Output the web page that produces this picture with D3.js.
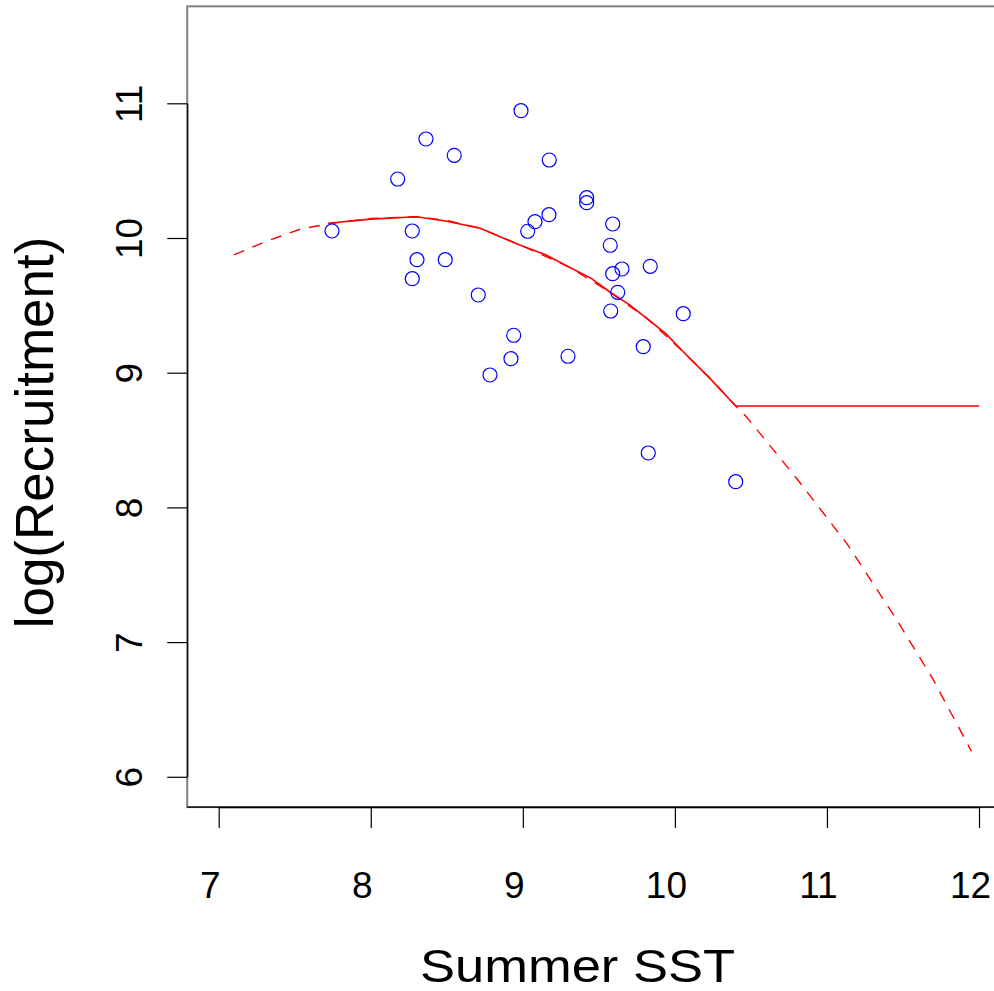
<!DOCTYPE html>
<html>
<head>
<meta charset="utf-8">
<script src="https://cdn.jsdelivr.net/npm/d3@7"></script>
<style>
  body { margin: 0; background: #fff; }
  text { font-family: "Liberation Sans", Arial, sans-serif; fill: #000; }
</style>
</head>
<body>
<div id="chart-area"></div>
<script>
// Observed points
let sstObs = [7.745, 8.177, 8.363, 8.549, 8.273, 8.304, 8.273, 8.490, 8.707, 8.784,
  8.922, 8.940, 8.988, 9.032, 9.080, 9.174, 9.172, 9.297, 9.420, 9.420,
  9.591, 9.575, 9.591, 9.652, 9.624, 9.578, 9.838, 9.792, 10.055, 9.825, 10.400];
let recObs = [10.052, 10.438, 10.735, 10.614, 10.052, 9.839, 9.698, 9.839, 9.577, 8.983,
  9.104, 9.278, 10.945, 10.050, 10.121, 10.579, 10.173, 9.122, 10.299, 10.262,
  10.104, 9.946, 9.735, 9.770, 9.597, 9.458, 9.790, 9.193, 9.438, 8.404, 8.191];

// Dashed fitted curve
let fitSst = [7.10, 7.30, 7.54, 7.75, 8.0, 8.3, 8.5, 8.72, 9.0, 9.3, 9.57, 9.82,
  10.05, 10.23, 10.40, 10.47, 10.80, 11.13, 11.46, 11.70, 11.95];
let fitRec = [9.874, 9.97, 10.067, 10.11, 10.145, 10.158, 10.13, 10.072, 9.94, 9.787, 9.60, 9.40,
  9.16, 8.96, 8.753, 8.673, 8.216, 7.733, 7.164, 6.719, 6.19];

// Solid curve (with flat extension)
let solidSst = [7.72, 8.0, 8.30, 8.50, 8.72, 8.85, 8.98, 9.15, 9.30, 9.45, 9.57, 9.70, 9.815,
  9.94, 10.055, 10.23, 10.40, 12.0];
let solidRec = [10.11, 10.14, 10.158, 10.125, 10.072, 10.01, 9.948, 9.875, 9.787, 9.70, 9.601, 9.505, 9.404,
  9.29, 9.156, 8.958, 8.753, 8.753];

let xTicks = [7, 8, 9, 10, 11, 12];
let yTicks = [6, 7, 8, 9, 10, 11];

let width = 994, height = 991;

let svg = d3
  .select('#chart-area')
  .append('svg')
  .attr('width', width)
  .attr('height', height);

// Scales
let x = d3.scaleLinear().domain([7, 12]).range([218.7, 979]);
let y = d3.scaleLinear().domain([6, 11]).range([776.8, 103.3]);

// Plot box
let boxL = x(6.793), boxR = x(12.2), boxT = y(11.72), boxB = y(5.775);
svg
  .append('rect')
  .attr('x', boxL)
  .attr('y', boxT)
  .attr('width', boxR - boxL)
  .attr('height', boxB - boxT)
  .attr('fill', 'none')
  .attr('stroke', '#808080')
  .attr('stroke-width', 2);
svg
  .append('line')
  .attr('x1', boxL)
  .attr('x2', boxR)
  .attr('y1', boxB)
  .attr('y2', boxB)
  .attr('stroke', '#000')
  .attr('stroke-width', 1.2);

// Axes
let xAxis = svg
  .append('g')
  .attr('transform', `translate(0, ${boxB})`)
  .call(d3.axisBottom(x).tickValues(xTicks).tickFormat(d3.format('d'))
    .tickSize(21).tickSizeOuter(0).tickPadding(44));
xAxis.selectAll('text').attr('dx', -9).style('font-size', '37px');

let yAxis = svg
  .append('g')
  .attr('transform', `translate(${boxL}, 0)`)
  .call(d3.axisLeft(y).tickValues(yTicks).tickFormat(d3.format('d'))
    .tickSize(20).tickSizeOuter(0));
yAxis
  .selectAll('text')
  .attr('x', 0)
  .attr('y', -45.6)
  .attr('dy', 0)
  .attr('transform', 'rotate(-90)')
  .attr('text-anchor', 'middle')
  .style('font-size', '37px');

svg.selectAll('.domain, .tick line').attr('stroke', '#000').attr('stroke-width', 1.2);

// Lines
let fitData = fitSst.map((v, i) => ({ sst: v, rec: fitRec[i] }));
let solidData = solidSst.map((v, i) => ({ sst: v, rec: solidRec[i] }));

let line = d3
  .line()
  .x(d => x(d.sst))
  .y(d => y(d.rec))
  .curve(d3.curveLinear);

svg
  .append('path')
  .datum(fitData)
  .attr('d', line)
  .attr('fill', 'none')
  .attr('stroke', '#ff0000')
  .attr('stroke-width', 1.4)
  .attr('stroke-dasharray', '11,9');

svg
  .append('path')
  .datum(solidData)
  .attr('d', line)
  .attr('fill', 'none')
  .attr('stroke', '#ff0000')
  .attr('stroke-width', 1.6);

// Points
svg
  .selectAll('.point')
  .data(sstObs.map((v, i) => ({ sst: v, rec: recObs[i] })))
  .enter()
  .append('circle')
  .attr('class', 'point')
  .attr('cx', d => x(d.sst))
  .attr('cy', d => y(d.rec))
  .attr('r', 7)
  .attr('fill', 'none')
  .attr('stroke', '#0000ff')
  .attr('stroke-width', 1.2);

// Axis titles
svg
  .append('text')
  .attr('x', 577.5)
  .attr('y', 982)
  .attr('text-anchor', 'middle')
  .attr('textLength', 315)
  .attr('lengthAdjust', 'spacingAndGlyphs')
  .style('font-size', '46px')
  .text('Summer SST');

svg
  .append('text')
  .attr('transform', 'translate(53, 432.5) rotate(-90)')
  .attr('text-anchor', 'middle')
  .style('font-size', '53px')
  .text('log(Recruitment)');
</script>
</body>
</html>
